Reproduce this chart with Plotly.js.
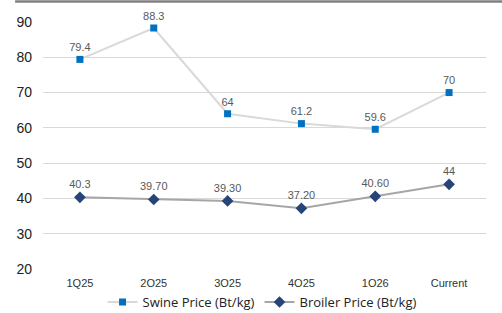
<!DOCTYPE html>
<html><head><meta charset="utf-8">
<script src="https://cdn.plot.ly/plotly-3.0.1.min.js"></script>
<style>html,body{margin:0;padding:0;background:#fff}#chart{width:502px;height:313px}</style>
</head><body><div id="chart"></div>
<script>
const categories = ["1Q25","2Q25","3Q25","4Q25","1Q26","Current"];
const swine = [79.4, 88.3, 64, 61.2, 59.6, 70];
const swineLabels = ["79.4","88.3","64","61.2","59.6","70"];
const broiler = [40.3, 39.7, 39.3, 37.2, 40.6, 44];
const broilerLabels = ["40.3","39.70","39.30","37.20","40.60","44"];
const yTicks = [20,30,40,50,60,70,80,90];

const traces = [
  {x: categories, y: swine, text: swineLabels, name: "Swine Price (Bt/kg)", type: "scatter",
   mode: "lines+markers+text", textposition: "top center", cliponaxis: false,
   textfont: {family: "Liberation Sans, Arial, sans-serif", size: 11, color: "#595959"},
   line: {color: "#d9d9d9", width: 2}, marker: {symbol: "square", size: 7, color: "#0070c0"}},
  {x: categories, y: broiler, text: broilerLabels, name: "Broiler Price (Bt/kg)", type: "scatter",
   mode: "lines+markers+text", textposition: "top center", cliponaxis: false,
   textfont: {family: "Liberation Sans, Arial, sans-serif", size: 11, color: "#595959"},
   line: {color: "#a6a6a6", width: 2}, marker: {symbol: "diamond", size: 9, color: "#264478"}}
];

const layout = {
  width: 502, height: 313,
  margin: {l: 43, r: 16, t: 22, b: 44, autoexpand: false},
  paper_bgcolor: "#fff", plot_bgcolor: "#fff",
  font: {family: "Liberation Sans, Arial, sans-serif", color: "#333"},
  showlegend: true,
  legend: {orientation: "h", x: 0.522, xanchor: "center", xref: "container",
           y: 0.035, yanchor: "middle", yref: "container", itemwidth: 30,
           font: {family: "Open Sans, sans-serif", size: 13, color: "#222"}, traceorder: "normal"},
  xaxis: {type: "category", range: [-0.5, 5.5], showgrid: false, showline: false, zeroline: false, ticks: "",
          ticklabelstandoff: 6, tickfont: {size: 11, color: "#333"}, fixedrange: true},
  yaxis: {range: [20, 90], tickvals: yTicks, showgrid: true, gridcolor: "#d9d9d9", gridwidth: 1,
          zeroline: false, showline: false, ticks: "", ticklabelstandoff: 10,
          tickfont: {size: 14, color: "#222"}},
  shapes: [{type: "line", xref: "paper", yref: "paper", x0: -0.063, x1: 1.04, y0: 1.083, y1: 1.083,
            line: {color: "#808080", width: 2.5}}]
};
Plotly.newPlot("chart", traces, layout, {displayModeBar: false, staticPlot: true});
</script></body></html>
